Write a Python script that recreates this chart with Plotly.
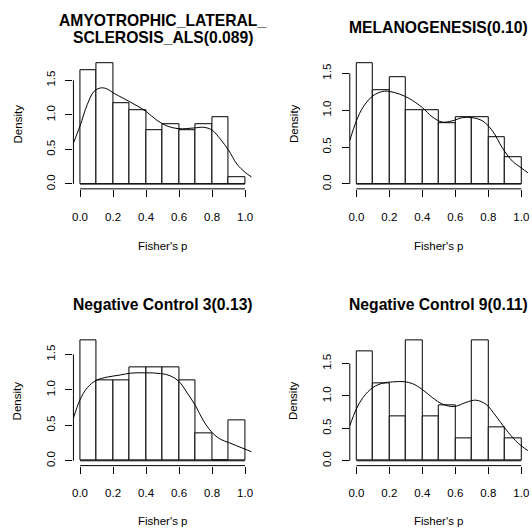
import plotly.graph_objects as go

# ---------------- data ----------------
breaks = [0.0, 0.1, 0.2, 0.3, 0.4, 0.5, 0.6, 0.7, 0.8, 0.9, 1.0]
x_ticks = [0.0, 0.2, 0.4, 0.6, 0.8, 1.0]
x_tick_labels = ["0.0", "0.2", "0.4", "0.6", "0.8", "1.0"]
y_ticks = [0.0, 0.5, 1.0, 1.5]
y_tick_labels = ["0.0", "0.5", "1.0", "1.5"]

titles = [
    ["AMYOTROPHIC_LATERAL_", "SCLEROSIS_ALS(0.089)"],
    ["MELANOGENESIS(0.10)"],
    ["Negative Control 3(0.13)"],
    ["Negative Control 9(0.11)"],
]

als_density = [1.65, 1.75, 1.17, 1.07, 0.78, 0.87, 0.78, 0.87, 0.97, 0.10]
mel_density = [1.64, 1.27, 1.45, 1.00, 1.00, 0.82, 0.91, 0.91, 0.64, 0.36]
nc3_density = [1.70, 1.13, 1.13, 1.32, 1.32, 1.32, 1.13, 0.38, 0.00, 0.57]
nc9_density = [1.69, 1.19, 0.68, 1.86, 0.68, 0.85, 0.34, 1.86, 0.51, 0.34]

als_kde_x = [-0.042, 0.0, 0.044, 0.085, 0.125, 0.165, 0.2, 0.266, 0.346, 0.4, 0.467,
             0.527, 0.6, 0.688, 0.75, 0.8, 0.85, 0.9, 0.95, 1.0, 1.04]
als_kde_y = [0.58, 0.84, 1.15, 1.34, 1.39, 1.375, 1.32, 1.235, 1.13, 1.05, 0.92,
             0.84, 0.80, 0.81, 0.82, 0.78, 0.65, 0.49, 0.29, 0.17, 0.10]

mel_kde_x = [-0.04, 0.0, 0.04, 0.1, 0.16, 0.2, 0.26, 0.32, 0.4, 0.46, 0.52, 0.58,
             0.644, 0.7, 0.765, 0.825, 0.885, 0.946, 1.0, 1.05]
mel_kde_y = [0.59, 0.855, 1.04, 1.195, 1.255, 1.255, 1.22, 1.16, 1.036, 0.91, 0.84, 0.855,
             0.90, 0.90, 0.855, 0.72, 0.49, 0.31, 0.218, 0.136]

nc3_kde_x = [-0.042, 0.0, 0.044, 0.1, 0.165, 0.245, 0.306, 0.4, 0.487, 0.547, 0.6, 0.648,
             0.7, 0.748, 0.8, 0.85, 0.9, 0.95, 1.0, 1.04]
nc3_kde_y = [0.587, 0.86, 1.03, 1.136, 1.18, 1.21, 1.235, 1.24, 1.23, 1.197, 1.117, 0.962,
             0.775, 0.563, 0.40, 0.305, 0.258, 0.211, 0.164, 0.127]

nc9_kde_x = [-0.04, 0.0, 0.04, 0.1, 0.16, 0.22, 0.29, 0.34, 0.4, 0.46, 0.523, 0.594,
             0.664, 0.724, 0.785, 0.845, 0.905, 0.966, 1.0, 1.05]
nc9_kde_y = [0.54, 0.80, 0.976, 1.13, 1.197, 1.217, 1.22, 1.19, 1.10, 0.976, 0.873, 0.837,
             0.90, 0.935, 0.873, 0.693, 0.488, 0.308, 0.231, 0.139]

panels = [
    (als_density, als_kde_x, als_kde_y),
    (mel_density, mel_kde_x, mel_kde_y),
    (nc3_density, nc3_kde_x, nc3_kde_y),
    (nc9_density, nc9_kde_x, nc9_kde_y),
]

# ---------------- layout geometry ----------------
W, H = 532, 529
FONT = "Liberation Sans, Arial, Helvetica, sans-serif"
col_px = [(72.7, 251.6), (350.1, 528.9)]
row_px = [(58.3, 189.2), (336.0, 466.5)]
title_y_px = [[20.7, 38.0], [27.5], [304.8], [304.8]]
xlab_y_px = [246.5, 246.5, 521.6, 521.6]
ylab_x_px = [17.0, 293.6, 17.0, 293.6]

fig = go.Figure()
annotations = []
shapes = []
layout = dict(
    width=W, height=H,
    margin=dict(l=0, r=0, t=0, b=0),
    paper_bgcolor="white", plot_bgcolor="white",
    showlegend=False,
    font=dict(family=FONT, size=11.5, color="black"),
)

centers = [(breaks[i] + breaks[i + 1]) / 2 for i in range(len(breaks) - 1)]
widths = [breaks[i + 1] - breaks[i] for i in range(len(breaks) - 1)]

for k, (dens, kx, ky) in enumerate(panels):
    r, c = divmod(k, 2)
    sfx = "" if k == 0 else str(k + 1)
    xa, ya = "x" + sfx, "y" + sfx
    fig.add_trace(go.Bar(
        x=centers, y=dens, width=widths,
        marker=dict(color="white", line=dict(color="black", width=1)),
        xaxis=xa, yaxis=ya, hoverinfo="skip"))
    fig.add_trace(go.Scatter(
        x=kx, y=ky, mode="lines", line=dict(color="black", width=1, shape="spline"),
        xaxis=xa, yaxis=ya, hoverinfo="skip"))

    x0p, x1p = col_px[c]
    y0p, y1p = row_px[r]
    ymax = max(dens)
    xr = breaks[-1] - breaks[0]
    layout["xaxis" + sfx] = dict(
        domain=[x0p / W, x1p / W], anchor=ya,
        range=[breaks[0] - 0.04 * xr, breaks[-1] + 0.04 * xr],
        tickvals=x_ticks, ticktext=x_tick_labels,
        ticks="outside", ticklen=7, tickwidth=1, tickcolor="black",
        showline=False, showgrid=False, zeroline=False,
        tickfont=dict(family=FONT, size=11.5, color="black"),
        ticklabelstandoff=10, fixedrange=True)
    layout["yaxis" + sfx] = dict(
        domain=[1 - y1p / H, 1 - y0p / H], anchor=xa,
        range=[-0.04 * ymax, 1.04 * ymax],
        tickvals=y_ticks, ticktext=y_tick_labels, tickangle=-90,
        ticks="outside", ticklen=7, tickwidth=1, tickcolor="black",
        showline=False, showgrid=False, zeroline=False,
        tickfont=dict(family=FONT, size=11.5, color="black"),
        ticklabelstandoff=6, fixedrange=True)

    # R-style axis lines spanning only the tick range
    shapes.append(dict(type="line", xref=xa, yref=ya + " domain",
                       x0=x_ticks[0], x1=x_ticks[-1], y0=0, y1=0,
                       line=dict(color="black", width=1)))
    shapes.append(dict(type="line", xref=xa + " domain", yref=ya,
                       x0=0, x1=0, y0=y_ticks[0], y1=y_ticks[-1],
                       line=dict(color="black", width=1)))
    # baseline under bars (R draws empty bins as flat rectangles)
    shapes.append(dict(type="line", xref=xa, yref=ya,
                       x0=breaks[0], x1=breaks[-1], y0=0, y1=0,
                       line=dict(color="black", width=1)))

    xc = (x0p + x1p) / 2 / W
    for line_txt, ty in zip(titles[k], title_y_px[k]):
        annotations.append(dict(
            text="<b>" + line_txt + "</b>", xref="paper", yref="paper",
            x=xc, y=1 - ty / H, xanchor="center", yanchor="middle",
            showarrow=False, font=dict(family=FONT, size=15.7, color="black")))
    annotations.append(dict(
        text="Fisher's p", xref="paper", yref="paper",
        x=xc, y=1 - xlab_y_px[k] / H, xanchor="center", yanchor="middle",
        showarrow=False, font=dict(family=FONT, size=11.5, color="black")))
    annotations.append(dict(
        text="Density", xref="paper", yref="paper", textangle=-90,
        x=ylab_x_px[k] / W, y=1 - (y0p + y1p) / 2 / H,
        xanchor="center", yanchor="middle",
        showarrow=False, font=dict(family=FONT, size=11.5, color="black")))

layout["annotations"] = annotations
layout["shapes"] = shapes
layout["bargap"] = 0
fig.update_layout(**layout)
fig.write_html("out.html")
